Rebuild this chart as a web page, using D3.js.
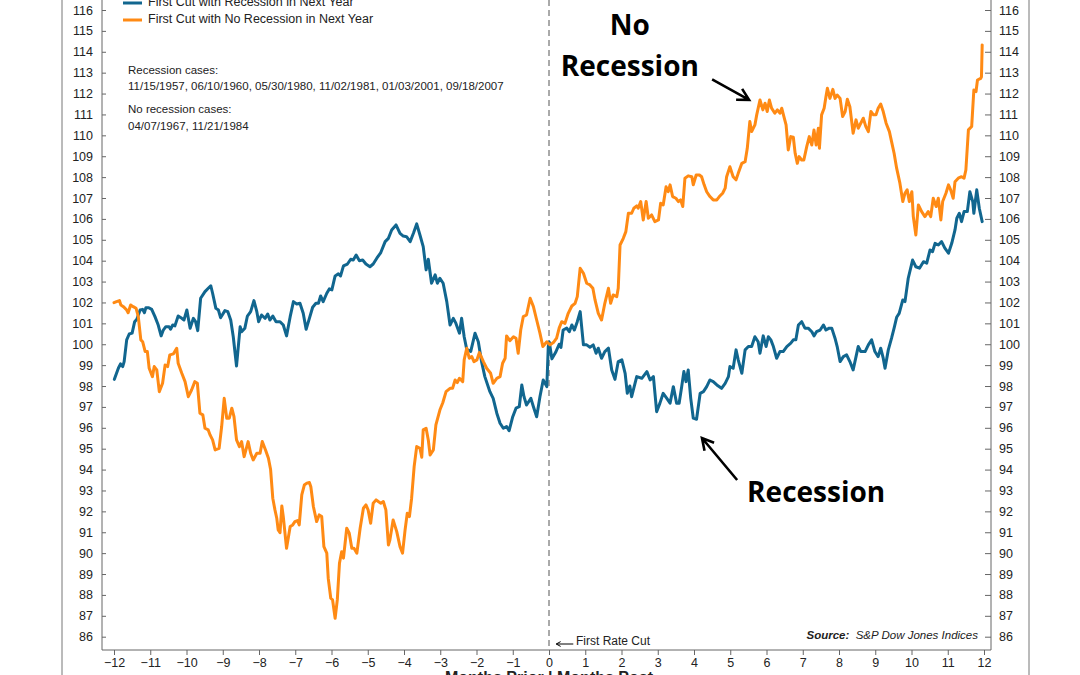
<!DOCTYPE html>
<html><head><meta charset="utf-8">
<script src="https://cdn.jsdelivr.net/npm/d3@7"></script>
<style>
body{margin:0;background:#fff}
svg{display:block}
text{font-family:"Liberation Sans",Arial,Helvetica,sans-serif}
</style>
</head><body>
<svg id="c" width="1080" height="675"></svg>
<script>
// ---------- data ----------
const yTickValues = d3.range(86, 117);
const xTickValues = d3.range(-12, 13);
const seriesNames = ["First Cut with Recession in Next Year", "First Cut with No Recession in Next Year"];
const recessionCases = "11/15/1957, 06/10/1960, 05/30/1980, 11/02/1981, 01/03/2001, 09/18/2007";
const noRecessionCases = "04/07/1967, 11/21/1984";

const recMonths = [
-11.99,-11.88,-11.82,-11.76,-11.72,-11.65,-11.58,-11.50,-11.43,-11.37,
-11.28,-11.21,-11.16,-11.12,-11.04,-10.96,-10.87,-10.78,-10.70,-10.64,
-10.57,-10.48,-10.44,-10.38,-10.32,-10.23,-10.13,-10.07,-9.99,-9.90,
-9.81,-9.75,-9.69,-9.61,-9.49,-9.40,-9.33,-9.28,-9.19,-9.12,
-9.06,-8.94,-8.86,-8.78,-8.71,-8.62,-8.52,-8.48,-8.39,-8.32,
-8.23,-8.14,-8.06,-8.01,-7.93,-7.83,-7.76,-7.70,-7.62,-7.53,
-7.42,-7.33,-7.24,-7.14,-7.05,-6.96,-6.87,-6.78,-6.70,-6.61,
-6.52,-6.43,-6.36,-6.30,-6.23,-6.13,-6.06,-5.99,-5.90,-5.81,
-5.75,-5.67,-5.56,-5.47,-5.40,-5.32,-5.23,-5.14,-5.05,-4.94,
-4.85,-4.75,-4.64,-4.52,-4.43,-4.34,-4.22,-4.11,-4.02,-3.93,
-3.83,-3.74,-3.65,-3.56,-3.47,-3.39,-3.33,-3.24,-3.14,-3.08,
-3.01,-2.92,-2.82,-2.73,-2.64,-2.57,-2.47,-2.41,-2.34,-2.27,
-2.16,-2.04,-1.95,-1.86,-1.77,-1.63,-1.54,-1.44,-1.35,-1.26,
-1.17,-1.10,-1.00,-0.91,-0.82,-0.75,-0.69,-0.62,-0.50,-0.43,
-0.34,-0.25,-0.16,-0.06,-0.02,0.01,0.08,0.18,0.28,0.33,
0.39,0.49,0.56,0.63,0.70,0.78,0.86,0.95,1.04,1.13,
1.22,1.30,1.36,1.45,1.54,1.64,1.73,1.82,1.91,2.01,
2.10,2.16,2.23,2.28,2.42,2.56,2.70,2.79,2.88,2.97,
3.06,3.15,3.25,3.34,3.43,3.52,3.59,3.66,3.72,3.78,
3.84,3.91,3.98,4.07,4.17,4.26,4.35,4.44,4.53,4.63,
4.76,4.86,4.95,4.99,5.08,5.16,5.22,5.32,5.41,5.50,
5.59,5.68,5.77,5.82,5.91,5.99,6.05,6.12,6.19,6.28,
6.37,6.46,6.56,6.67,6.74,6.81,6.88,6.97,7.06,7.15,
7.25,7.31,7.38,7.48,7.57,7.64,7.73,7.80,7.89,7.95,
8.03,8.12,8.21,8.30,8.39,8.47,8.53,8.60,8.72,8.81,
8.90,8.99,9.08,9.15,9.22,9.27,9.36,9.45,9.52,9.59,
9.66,9.76,9.82,9.91,10.03,10.12,10.22,10.33,10.42,10.51,
10.58,10.65,10.74,10.83,10.92,11.02,11.11,11.20,11.25,11.32,
11.38,11.45,11.54,11.61,11.69,11.72,11.80,11.87,11.95
];
const recValues = [
98.32,98.85,99.06,98.93,99.17,100.21,100.49,100.53,101.08,101.20,
101.64,101.67,101.51,101.75,101.75,101.67,101.32,100.92,100.40,100.68,
100.84,100.84,100.72,100.92,100.88,101.35,101.24,101.16,101.64,100.77,
101.24,101.08,100.65,102.20,102.52,102.68,102.80,102.44,101.72,101.64,
101.27,101.61,101.56,101.16,100.36,98.96,100.84,100.60,100.77,101.35,
101.56,102.09,101.56,101.08,101.40,101.24,101.45,101.16,101.35,101.08,
101.08,100.92,100.40,101.32,102.04,101.93,101.96,101.48,100.72,101.24,
101.77,101.96,101.96,102.31,102.04,102.44,102.65,102.60,103.27,103.37,
103.27,103.75,103.84,104.07,104.03,104.27,104.00,104.03,103.84,103.71,
103.84,104.12,104.39,104.91,105.07,105.47,105.71,105.31,105.18,105.15,
104.91,105.31,105.76,105.23,104.67,103.56,104.07,102.92,103.32,102.92,
103.16,102.92,102.04,100.92,101.24,101.01,100.53,101.24,100.36,99.76,
99.65,100.53,100.12,99.17,98.45,97.73,97.41,96.70,96.22,95.98,
96.06,95.86,96.53,96.94,97.01,98.05,97.49,97.09,97.41,97.01,
96.53,97.49,98.29,97.97,99.90,100.10,99.30,99.60,100.00,99.85,
100.68,100.77,100.60,100.92,100.68,101.08,101.56,99.97,99.97,99.86,
99.97,99.57,99.81,99.33,99.65,99.81,98.77,98.32,99.17,99.25,
98.61,97.65,98.00,97.49,98.45,98.37,98.69,98.29,98.45,96.77,
97.18,97.65,97.41,97.18,97.97,97.18,97.18,97.97,98.69,98.21,
98.77,97.41,96.46,96.41,97.65,97.73,97.97,98.29,98.21,98.05,
97.89,98.13,98.45,98.93,98.85,99.73,99.25,98.61,99.73,99.89,
99.89,100.36,100.12,99.57,100.40,99.89,100.36,100.21,99.89,99.33,
99.65,99.65,99.89,100.05,100.21,100.21,100.92,101.08,100.77,100.77,
100.60,100.40,100.60,100.68,100.92,100.68,100.77,100.77,100.29,99.89,
99.17,99.41,99.49,99.17,98.77,99.41,99.89,99.65,99.65,99.97,
100.21,99.65,99.41,99.81,99.33,98.85,99.73,100.29,100.77,101.29,
101.48,102.12,102.04,103.16,104.03,103.71,103.64,103.95,103.88,104.51,
104.43,104.83,104.75,104.91,104.60,104.36,104.83,105.47,106.03,106.27,
105.87,106.35,106.35,107.30,106.83,106.27,107.39,106.51,105.87
];

const noRecMonths = [
-12.00,-11.93,-11.85,-11.81,-11.74,-11.65,-11.61,-11.54,-11.47,-11.39,
-11.33,-11.26,-11.21,-11.14,-11.08,-11.03,-10.94,-10.89,-10.82,-10.75,
-10.66,-10.59,-10.52,-10.46,-10.36,-10.27,-10.23,-10.13,-10.04,-9.95,
-9.86,-9.77,-9.70,-9.63,-9.55,-9.49,-9.40,-9.35,-9.28,-9.21,
-9.10,-9.03,-8.96,-8.89,-8.82,-8.75,-8.69,-8.62,-8.54,-8.48,
-8.41,-8.36,-8.30,-8.23,-8.16,-8.06,-7.97,-7.91,-7.82,-7.74,
-7.68,-7.62,-7.56,-7.51,-7.47,-7.42,-7.37,-7.33,-7.24,-7.14,
-7.07,-7.01,-6.94,-6.89,-6.82,-6.75,-6.68,-6.61,-6.57,-6.50,
-6.41,-6.34,-6.27,-6.21,-6.13,-6.09,-6.02,-5.97,-5.90,-5.84,
-5.78,-5.72,-5.67,-5.58,-5.51,-5.44,-5.38,-5.30,-5.21,-5.12,
-5.05,-4.99,-4.92,-4.85,-4.77,-4.71,-4.64,-4.57,-4.50,-4.43,
-4.39,-4.30,-4.20,-4.11,-4.04,-3.97,-3.91,-3.85,-3.79,-3.72,
-3.65,-3.56,-3.51,-3.47,-3.39,-3.33,-3.28,-3.19,-3.12,-3.01,
-2.93,-2.84,-2.73,-2.66,-2.59,-2.53,-2.47,-2.38,-2.34,-2.27,
-2.20,-2.13,-2.07,-1.99,-1.92,-1.81,-1.72,-1.61,-1.54,-1.44,
-1.35,-1.28,-1.21,-1.17,-1.08,-0.98,-0.91,-0.85,-0.78,-0.71,
-0.62,-0.52,-0.43,-0.34,-0.25,-0.17,-0.06,0.03,0.12,0.21,
0.28,0.35,0.44,0.53,0.63,0.72,0.78,0.86,0.95,1.04,
1.13,1.21,1.27,1.36,1.45,1.54,1.64,1.70,1.77,1.87,
1.91,1.96,2.05,2.12,2.19,2.28,2.34,2.42,2.46,2.53,
2.60,2.68,2.74,2.83,2.92,3.02,3.08,3.15,3.23,3.29,
3.34,3.41,3.50,3.57,3.63,3.69,3.75,3.84,3.94,3.98,
4.06,4.15,4.21,4.28,4.35,4.44,4.53,4.63,4.70,4.79,
4.86,4.90,4.99,5.08,5.16,5.22,5.32,5.41,5.47,5.54,
5.59,5.68,5.73,5.82,5.90,5.96,6.02,6.08,6.14,6.23,
6.30,6.37,6.42,6.48,6.54,6.60,6.67,6.74,6.79,6.85,
6.90,6.97,7.03,7.11,7.18,7.25,7.31,7.37,7.43,7.46,
7.52,7.59,7.64,7.68,7.75,7.83,7.89,7.95,8.03,8.10,
8.17,8.23,8.30,8.39,8.47,8.53,8.60,8.67,8.74,8.81,
8.88,8.95,9.02,9.08,9.15,9.22,9.30,9.39,9.45,9.52,
9.59,9.68,9.76,9.82,9.88,9.94,10.01,10.05,10.12,10.19,
10.28,10.37,10.46,10.53,10.60,10.68,10.74,10.81,10.86,10.95,
11.02,11.08,11.15,11.20,11.29,11.38,11.45,11.50,11.57,11.66,
11.72,11.78,11.82,11.91,11.93,11.95
];
const noRecValues = [
101.99,102.04,102.09,101.88,101.80,101.64,101.51,101.88,101.80,101.72,
101.32,100.21,100.12,99.65,99.65,98.85,98.45,98.93,98.77,97.73,
98.13,99.01,98.93,99.49,99.54,99.81,99.09,98.61,98.21,97.49,
97.81,98.21,98.13,96.70,96.62,95.98,95.90,95.66,95.42,94.94,
95.02,96.06,97.41,96.46,96.46,96.94,96.53,95.42,95.10,95.34,
94.62,94.94,95.34,94.78,94.46,94.78,94.78,95.34,94.94,94.54,
94.00,92.63,92.07,91.67,91.11,90.98,92.26,91.75,90.23,91.27,
91.35,91.51,91.56,91.35,92.79,93.26,93.35,93.38,93.18,92.23,
91.51,91.83,91.75,90.31,90.00,88.80,87.84,87.76,86.88,87.76,
89.52,90.07,89.76,91.19,90.95,90.23,90.23,90.00,91.19,92.15,
92.31,92.07,91.43,92.39,92.55,92.47,92.39,92.47,92.07,90.39,
90.63,91.59,91.03,90.31,90.00,91.11,91.91,91.75,92.63,94.14,
95.10,95.02,94.59,95.90,95.98,95.42,94.70,94.94,96.14,96.85,
97.20,97.73,97.89,97.89,98.29,98.16,98.37,98.21,99.25,99.81,
99.33,99.41,99.17,99.25,99.60,99.17,98.85,98.61,98.13,98.37,
98.45,99.09,99.33,100.40,100.17,100.36,100.29,99.57,100.68,101.32,
101.40,102.20,101.80,101.16,100.53,99.89,100.12,99.97,100.08,100.29,
100.77,101.08,101.00,101.48,101.83,101.96,102.28,103.64,103.40,102.92,
102.84,102.68,102.12,101.48,101.16,101.96,102.68,101.96,102.36,102.28,
102.68,104.75,105.07,105.39,106.27,106.27,106.51,106.62,106.51,106.83,
105.95,106.83,106.03,106.19,105.87,105.95,106.75,106.67,107.54,107.30,
107.63,107.07,106.99,106.83,106.91,106.59,107.95,108.06,108.02,107.63,
108.10,108.10,108.02,107.63,107.30,107.07,106.91,106.91,107.07,107.23,
107.47,108.02,108.50,108.02,107.87,108.18,108.66,108.74,109.38,110.66,
110.18,110.50,110.98,111.69,111.22,111.54,111.14,111.69,111.30,111.06,
111.22,111.06,111.30,110.90,110.50,109.30,109.94,109.91,109.14,108.66,
108.98,108.82,108.82,109.46,109.94,109.54,110.26,109.54,110.34,109.38,
110.98,111.30,111.85,112.25,111.77,112.20,111.77,111.93,111.77,110.90,
111.14,111.73,111.37,110.10,110.74,110.34,110.58,110.82,110.42,110.18,
111.14,110.98,110.98,111.30,111.50,111.14,110.58,110.18,109.70,109.14,
108.43,107.71,106.83,107.23,107.39,106.83,107.30,106.11,105.23,106.67,
106.35,106.11,106.35,106.11,106.99,106.59,106.99,105.95,106.83,107.23,
107.63,107.39,106.99,107.78,107.95,108.02,107.95,108.34,110.26,110.42,
112.17,112.09,112.65,112.73,112.80,114.33
];

// ---------- layout ----------
const colors = ["#11668f", "#ff8a14"];
const svg = d3.select("#c");
const x = d3.scaleLinear().domain([-12, 12]).range([114, 984]);
const y = d3.scaleLinear().domain([86, 116]).range([636.7, 10]);
const axisY = 650, leftX = 102, rightX = 991;

// outer frame verticals
svg.append("line").attr("x1", 62).attr("x2", 62).attr("y1", 0).attr("y2", 675).attr("stroke", "#777").attr("stroke-width", 1);
svg.append("line").attr("x1", 1029).attr("x2", 1029).attr("y1", 0).attr("y2", 675).attr("stroke", "#777").attr("stroke-width", 1);

// axes lines
const axCol = "#666";
svg.append("line").attr("x1", leftX).attr("x2", leftX).attr("y1", 0).attr("y2", axisY).attr("stroke", axCol);
svg.append("line").attr("x1", rightX).attr("x2", rightX).attr("y1", 0).attr("y2", axisY).attr("stroke", axCol);
svg.append("line").attr("x1", leftX).attr("x2", rightX).attr("y1", axisY).attr("y2", axisY).attr("stroke", axCol);

function styleAxis(g) {
  g.select(".domain").remove();
  g.selectAll(".tick line").attr("stroke", axCol);
  g.selectAll(".tick text").attr("fill", "#222").style("font-size", "12.5px")
    .style("font-family", '"Liberation Sans",Arial,sans-serif');
}
svg.append("g").attr("transform", `translate(${leftX},0)`)
  .call(d3.axisLeft(y).tickValues(yTickValues).tickSizeInner(-4).tickSizeOuter(0).tickPadding(9).tickFormat(d3.format("d")))
  .call(styleAxis);
svg.append("g").attr("transform", `translate(${rightX},0)`)
  .call(d3.axisRight(y).tickValues(yTickValues).tickSizeInner(-6).tickSizeOuter(0).tickPadding(8).tickFormat(d3.format("d")))
  .call(styleAxis);
svg.append("g").attr("transform", `translate(0,${axisY})`)
  .call(d3.axisBottom(x).tickValues(xTickValues).tickSizeInner(5).tickSizeOuter(0).tickPadding(3).tickFormat(d3.format("d")))
  .call(styleAxis);

// first-cut dashed line
svg.append("line").attr("x1", x(0)).attr("x2", x(0)).attr("y1", 0).attr("y2", axisY)
  .attr("stroke", "#555").attr("stroke-width", 1).attr("stroke-dasharray", "6,4");

// series
const recData = d3.zip(recMonths, recValues);
const noRecData = d3.zip(noRecMonths, noRecValues);
const line = d3.line().x(d => x(d[0])).y(d => y(d[1]));
[recData, noRecData].forEach((data, i) => {
  svg.append("path").datum(data).attr("d", line).attr("fill", "none")
    .attr("stroke", colors[i]).attr("stroke-width", 3)
    .attr("stroke-linejoin", "round").attr("stroke-linecap", "round");
});

// legend
seriesNames.forEach((name, i) => {
  const ly = 3 + i * 17;
  svg.append("line").attr("x1", 123).attr("x2", 142).attr("y1", ly).attr("y2", ly)
    .attr("stroke", colors[i]).attr("stroke-width", 3);
  svg.append("text").attr("x", 148).attr("y", ly - 1).attr("dy", "0.35em")
    .style("font-size", "12.5px").attr("fill", "#222").text(name);
});

// case notes
const notes = [["Recession cases:", 70], [recessionCases, 86], ["No recession cases:", 109], [noRecessionCases, 125.5]];
notes.forEach(([t, yy]) => {
  svg.append("text").attr("x", 128).attr("y", yy).attr("dy", "0.35em")
    .style("font-size", "11.5px").attr("fill", "#222").text(t);
});

// big annotations
const bigFont = '"Open Sans","Noto Sans",sans-serif';
function bigText(t, m, v) {
  svg.append("text").attr("x", x(m)).attr("y", y(v)).attr("text-anchor", "middle")
    .style("font-family", bigFont).style("font-weight", "700").style("font-size", "28px")
    .attr("fill", "#000").text(t);
}
bigText("No", 2.23, 114.79);
bigText("Recession", 2.23, 112.83);
bigText("Recession", 7.37, 92.44);

function arrow(m1, v1, m2, v2, headLen, width) {
  const x1 = x(m1), y1 = y(v1), x2 = x(m2), y2 = y(v2);
  const ang = Math.atan2(y2 - y1, x2 - x1);
  const a1 = ang + Math.PI - 0.5, a2 = ang + Math.PI + 0.5;
  const p = d3.path();
  p.moveTo(x1, y1); p.lineTo(x2, y2);
  p.moveTo(x2 + headLen * Math.cos(a1), y2 + headLen * Math.sin(a1));
  p.lineTo(x2, y2);
  p.lineTo(x2 + headLen * Math.cos(a2), y2 + headLen * Math.sin(a2));
  svg.append("path").attr("d", p.toString()).attr("fill", "none").attr("stroke", "#000")
    .attr("stroke-width", width).attr("stroke-linejoin", "miter");
}
arrow(4.50, 112.68, 5.52, 111.70, 13, 2.6);
arrow(5.19, 93.50, 4.22, 95.51, 13, 2.6);

// first rate cut label
arrow(0.67, 85.65, 0.2, 85.65, 5, 1);
svg.append("text").attr("x", 576).attr("y", 641).attr("dy", "0.35em")
  .style("font-size", "12px").attr("fill", "#222").text("First Rate Cut");

// source
const src = svg.append("text").attr("x", 978).attr("y", 635).attr("dy", "0.35em").attr("text-anchor", "end")
  .style("font-size", "11.5px").style("font-style", "italic").attr("fill", "#222");
src.append("tspan").style("font-weight", "700").text("Source:");
src.append("tspan").text("\u00a0\u00a0S&P Dow Jones Indices");

// x-axis title (partly cut by the frame)
svg.append("text").attr("x", x(0)).attr("y", 683).attr("text-anchor", "middle")
  .style("font-size", "16px").style("font-weight", "700").attr("fill", "#222")
  .text("Months Prior | Months Post");
</script>
</body></html>
